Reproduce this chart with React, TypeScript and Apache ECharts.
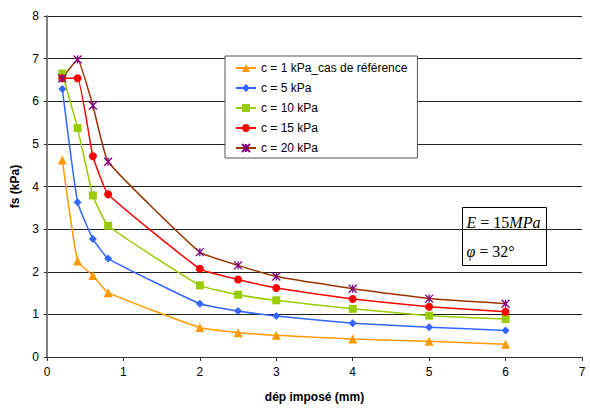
import React, { useEffect, useRef } from "react";
import * as echarts from "echarts";

const xValues = [0.2, 0.4, 0.6, 0.8, 2, 2.5, 3, 4, 5, 6];
const seriesNames = [
  "c = 1 kPa_cas de référence",
  "c = 5 kPa",
  "c = 10 kPa",
  "c = 15 kPa",
  "c = 20 kPa",
];
const c1 = [4.62, 2.25, 1.91, 1.51, 0.69, 0.57, 0.51, 0.42, 0.37, 0.3];
const c5 = [6.29, 3.63, 2.77, 2.31, 1.25, 1.08, 0.96, 0.79, 0.7, 0.62];
const c10 = [6.65, 5.37, 3.79, 3.08, 1.68, 1.46, 1.33, 1.13, 0.97, 0.89];
const c15 = [6.54, 6.54, 4.71, 3.82, 2.07, 1.82, 1.62, 1.36, 1.18, 1.06];
const c20 = [6.54, 6.98, 5.9, 4.58, 2.46, 2.15, 1.89, 1.6, 1.37, 1.25];
const yTicks = [0, 8];
const xTicks = [0, 7];

const FONT = "Liberation Sans, Arial, sans-serif";
const SERIF = "Liberation Serif, Times New Roman, serif";

export default function App() {
  const ref = useRef<HTMLDivElement>(null);
  useEffect(() => {
    document.body.style.margin = "0";
    if (!ref.current) return;
    const chart = echarts.init(ref.current, undefined, { renderer: "svg" });
    const pair = (ys: number[]) => xValues.map((x, i) => [x, ys[i]]);
    const star = "path://M0,0L10,10M10,0L0,10M5,0L5,10";
    const mk = (
      name: string,
      ys: number[],
      lineColor: string,
      symbol: string,
      size: number,
      markColor: string,
      stroke = false
    ) => ({
      name,
      type: "line",
      data: pair(ys),
      smooth: 0.12,
      symbol,
      symbolSize: size,
      lineStyle: { color: lineColor, width: 1.5 },
      itemStyle: stroke
        ? { color: "rgba(0,0,0,0)", borderColor: markColor, borderWidth: 1.3 }
        : { color: markColor, borderWidth: 0 },
      emphasis: { disabled: true },
    });
    chart.setOption({
      animation: false,
      grid: { left: 47, right: 8, top: 16, bottom: 49 },
      legend: {
        orient: "vertical",
        left: 225,
        top: 56,
        backgroundColor: "#fff",
        borderColor: "#555",
        borderWidth: 1,
        borderRadius: 0,
        padding: [6, 10, 4, 10],
        itemWidth: 20,
        itemHeight: 10,
        itemGap: 8,
        textStyle: { fontFamily: FONT, fontSize: 12, color: "#000" },
        data: seriesNames,
      },
      xAxis: {
        type: "value",
        min: xTicks[0],
        max: xTicks[1],
        interval: 1,
        name: "dép imposé (mm)",
        nameLocation: "middle",
        nameGap: 34,
        nameTextStyle: { fontFamily: FONT, fontSize: 12, fontWeight: "bold", color: "#000" },
        axisLine: { lineStyle: { color: "#333", width: 1 } },
        axisTick: { show: true, length: 4, lineStyle: { color: "#333" } },
        axisLabel: { fontFamily: FONT, fontSize: 12, color: "#000", margin: 9 },
        splitLine: { show: false },
      },
      yAxis: {
        type: "value",
        min: yTicks[0],
        max: yTicks[1],
        interval: 1,
        name: "fs (kPa)",
        nameLocation: "middle",
        nameGap: 22,
        nameRotate: 90,
        nameTextStyle: { fontFamily: FONT, fontSize: 12, fontWeight: "bold", color: "#000" },
        axisLine: { show: true, lineStyle: { color: "#808080", width: 2 } },
        axisTick: { show: true, length: 3, lineStyle: { color: "#333" } },
        axisLabel: { fontFamily: FONT, fontSize: 12, color: "#000", margin: 8 },
        splitLine: { show: true, lineStyle: { color: "#222", width: 1 } },
      },
      series: [
        mk(seriesNames[0], c1, "#FF9900", "triangle", 9, "#FF9900"),
        mk(seriesNames[1], c5, "#3366FF", "diamond", 8, "#3366FF"),
        mk(seriesNames[2], c10, "#99CC00", "rect", 8, "#99CC00"),
        mk(seriesNames[3], c15, "#FF0000", "circle", 8, "#FF0000"),
        mk(seriesNames[4], c20, "#993300", star, 8, "#800080", true),
      ],
      graphic: [
        {
          type: "group",
          left: 462,
          top: 207,
          children: [
            {
              type: "rect",
              shape: { x: 0, y: 0, width: 84, height: 58 },
              style: { fill: "#fff", stroke: "#000", lineWidth: 1 },
            },
            {
              type: "text",
              x: 4,
              y: 7,
              style: {
                text: "{i|E} = 15{i|MPa}",
                fontFamily: SERIF,
                fontSize: 16,
                fill: "#000",
                rich: {
                  i: { fontStyle: "italic", fontFamily: SERIF, fontSize: 16 },
                },
              },
            },
            {
              type: "text",
              x: 4,
              y: 36,
              style: {
                text: "{i|φ} = 32°",
                fontFamily: SERIF,
                fontSize: 16,
                fill: "#000",
                rich: {
                  i: { fontStyle: "italic", fontFamily: SERIF, fontSize: 16 },
                },
              },
            },
          ],
        },
      ],
    });
    return () => chart.dispose();
  }, []);
  return <div ref={ref} style={{ width: 590, height: 408 }} />;
}
